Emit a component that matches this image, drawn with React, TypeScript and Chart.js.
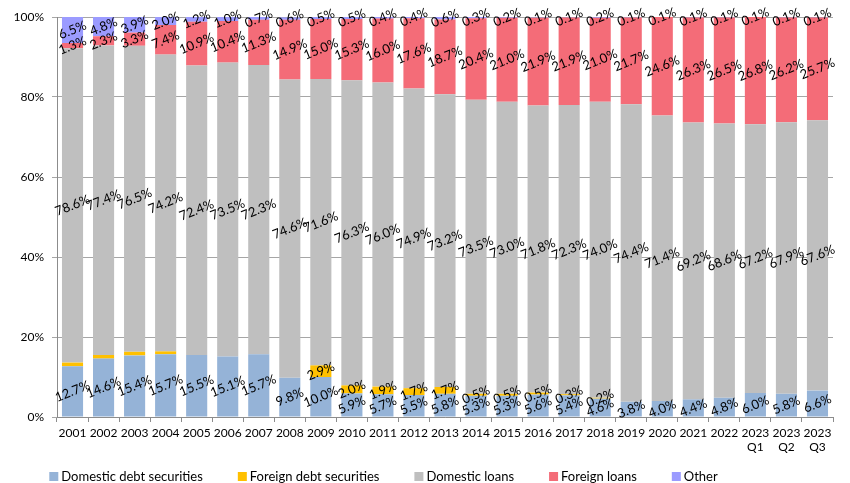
import React, { useEffect, useRef } from "react";
import { Chart, registerables } from "chart.js";
Chart.register(...registerables);

const categories: (string | string[])[] = [
  "2001", "2002", "2003", "2004", "2005", "2006", "2007", "2008", "2009", "2010",
  "2011", "2012", "2013", "2014", "2015", "2016", "2017", "2018", "2019", "2020",
  "2021", "2022", ["2023", "Q1"], ["2023", "Q2"], ["2023", "Q3"],
];

const domesticDebtSecurities = [12.7, 14.6, 15.4, 15.7, 15.5, 15.1, 15.7, 9.8, 10.0, 5.9, 5.7, 5.5, 5.8, 5.3, 5.3, 5.6, 5.4, 4.6, 3.8, 4.0, 4.4, 4.8, 6.0, 5.8, 6.6];
const foreignDebtSecurities = [0.9, 0.9, 0.9, 0.7, 0, 0, 0, 0, 2.9, 2.0, 1.9, 1.7, 1.7, 0.5, 0.5, 0.5, 0.3, 0.2, 0, 0, 0, 0, 0, 0, 0];
const foreignDebtLabelShown = [false, false, false, false, false, false, false, false, true, true, true, true, true, true, true, true, true, true, false, false, false, false, false, false, false];
const domesticLoans = [78.6, 77.4, 76.5, 74.2, 72.4, 73.5, 72.3, 74.6, 71.6, 76.3, 76.0, 74.9, 73.2, 73.5, 73.0, 71.8, 72.3, 74.0, 74.4, 71.4, 69.2, 68.6, 67.2, 67.9, 67.6];
const foreignLoans = [1.3, 2.3, 3.3, 7.4, 10.9, 10.4, 11.3, 14.9, 15.0, 15.3, 16.0, 17.6, 18.7, 20.4, 21.0, 21.9, 21.9, 21.0, 21.7, 24.6, 26.3, 26.5, 26.8, 26.2, 25.7];
const other = [6.5, 4.8, 3.9, 2.0, 1.2, 1.0, 0.7, 0.6, 0.5, 0.5, 0.4, 0.4, 0.6, 0.3, 0.2, 0.1, 0.1, 0.2, 0.1, 0.1, 0.1, 0.1, 0.1, 0.1, 0.1];
const yTicks = [0, 20, 40, 60, 80, 100];

const seriesNames = ["Domestic debt securities", "Foreign debt securities", "Domestic loans", "Foreign loans", "Other"];
const seriesColors = ["#95B3D7", "#FFC000", "#BFBFBF", "#F46C78", "#9B9BFF"];

const FONT = "Lato, 'Open Sans', sans-serif";

const labelPlugin = {
  id: "rotLabels",
  afterDatasetsDraw(chart: any) {
    const ctx = chart.ctx;
    ctx.save();
    ctx.font = `13px ${FONT}`;
    ctx.fillStyle = "#000";
    ctx.textAlign = "center";
    ctx.textBaseline = "middle";
    chart.data.datasets.forEach((ds: any, di: number) => {
      const meta = chart.getDatasetMeta(di);
      meta.data.forEach((bar: any, i: number) => {
        const v = ds.data[i];
        if (!v) return;
        if (di === 1 && !foreignDebtLabelShown[i]) return;
        const cx = bar.x;
        const cy = (bar.y + bar.base) / 2;
        ctx.save();
        ctx.translate(cx, cy);
        ctx.rotate((-22 * Math.PI) / 180);
        ctx.fillText(v.toFixed(1) + "%", 0, 0);
        ctx.restore();
      });
    });
    ctx.restore();
  },
};

const legendPlugin = {
  id: "customLegend",
  afterDraw(chart: any) {
    const ctx = chart.ctx;
    ctx.save();
    ctx.font = `13px ${FONT}`;
    ctx.textBaseline = "middle";
    ctx.textAlign = "left";
    const box = 9, gapText = 3, gapItem = 35;
    const widths = seriesNames.map((n) => ctx.measureText(n).width);
    const total = widths.reduce((a, w) => a + box + gapText + w, 0) + gapItem * (seriesNames.length - 1);
    let x = 383.5 - total / 2;
    const y = 476.5;
    seriesNames.forEach((n, i) => {
      ctx.fillStyle = seriesColors[i];
      ctx.fillRect(x, y - box / 2, box, box);
      ctx.fillStyle = "#000";
      ctx.fillText(n, x + box + gapText, y);
      x += box + gapText + widths[i] + gapItem;
    });
    ctx.restore();
  },
};

export default function App() {
  const ref = useRef<HTMLCanvasElement>(null);
  useEffect(() => {
    if (!ref.current) return;
    const datasetsData = [domesticDebtSecurities, foreignDebtSecurities, domesticLoans, foreignLoans, other];
    const chart = new Chart(ref.current, {
      type: "bar",
      data: {
        labels: categories as any,
        datasets: datasetsData.map((d, i) => ({
          label: seriesNames[i],
          data: d,
          backgroundColor: seriesColors[i],
          borderWidth: 0,
          barPercentage: 0.68,
          categoryPercentage: 1,
        })),
      },
      options: {
        animation: false,
        responsive: true,
        maintainAspectRatio: false,
        layout: { padding: { top: 17, right: 17, left: 0, bottom: 0 } },
        plugins: { legend: { display: false }, tooltip: { enabled: false } },
        scales: {
          x: {
            stacked: true,
            grid: { drawOnChartArea: false, drawTicks: true, tickLength: 5, color: "#8C8C8C", offset: true },
            border: { display: true, color: "#8C8C8C" },
            ticks: { color: "#000", font: { family: FONT, size: 12 }, maxRotation: 0, autoSkip: false, padding: 4 },
            afterFit: (s: any) => { s.height = 66; },
          },
          y: {
            stacked: true,
            min: 0,
            max: 100,
            afterBuildTicks: (s: any) => { s.ticks = yTicks.map((v) => ({ value: v })); },
            grid: { color: "#A6A6A6", lineWidth: 1, drawTicks: true, tickLength: 5 },
            border: { display: true, color: "#8C8C8C" },
            ticks: { color: "#000", font: { family: FONT, size: 12 }, padding: 8, callback: (v: any) => v + "%" },
            afterFit: (s: any) => { s.width = 57; },
          },
        },
      },
      plugins: [labelPlugin, legendPlugin],
    });
    return () => chart.destroy();
  }, []);
  return (
    <div style={{ position: "absolute", left: 0, top: 0, width: 850, height: 483 }}>
      <canvas ref={ref} />
    </div>
  );
}
